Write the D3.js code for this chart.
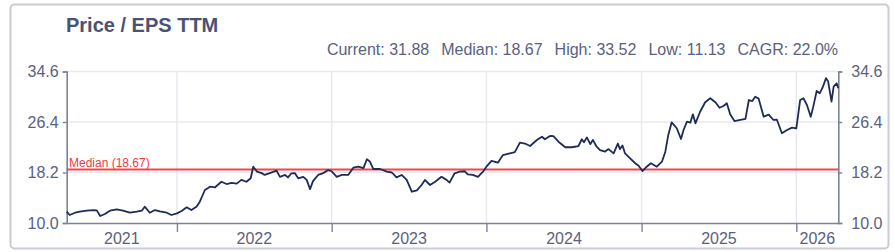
<!DOCTYPE html>
<html>
<head>
<meta charset="utf-8">
<script src="https://cdn.jsdelivr.net/npm/d3@7"></script>
<style>
body { margin: 0; background: #fff; }
svg { display: block; font-family: "Liberation Sans", Arial, sans-serif; }
</style>
</head>
<body>
<svg width="895" height="252"></svg>
<script>

// DATA

var title = "Price / EPS TTM";
var statLabels = ["Current", "Median", "High", "Low", "CAGR"];
var statValues = ["31.88", "18.67", "33.52", "11.13", "22.0%"];
var medianValue = 18.67;
var yTicks = [10.0, 18.2, 26.4, 34.6];
var domainDates = ["2021-04-16", "2026-04-10"];

var dates = [
    "2021-04-16", "2021-04-23", "2021-05-06", "2021-05-17", "2021-06-02", "2021-06-18", "2021-06-26",
    "2021-07-04", "2021-07-15", "2021-07-27", "2021-08-12", "2021-08-27", "2021-09-12", "2021-09-28",
    "2021-10-10", "2021-10-17", "2021-10-29", "2021-11-10", "2021-11-22", "2021-12-08", "2021-12-19",
    "2022-01-01", "2022-01-12", "2022-01-24", "2022-02-04", "2022-02-16", "2022-02-24", "2022-03-08",
    "2022-03-20", "2022-04-01", "2022-04-16", "2022-04-28", "2022-05-10", "2022-05-22", "2022-06-02",
    "2022-06-14", "2022-06-24", "2022-06-30", "2022-07-09", "2022-07-20", "2022-07-27", "2022-08-08",
    "2022-08-24", "2022-09-01", "2022-09-13", "2022-09-20", "2022-09-28", "2022-10-06", "2022-10-14",
    "2022-10-26", "2022-11-03", "2022-11-11", "2022-11-18", "2022-11-30", "2022-12-12", "2022-12-24",
    "2023-01-01", "2023-01-13", "2023-01-25", "2023-02-09", "2023-02-21", "2023-03-05", "2023-03-17",
    "2023-03-25", "2023-04-01", "2023-04-09", "2023-04-25", "2023-05-11", "2023-05-23", "2023-06-03",
    "2023-06-15", "2023-06-27", "2023-07-09", "2023-07-21", "2023-08-01", "2023-08-09", "2023-08-21",
    "2023-09-02", "2023-09-17", "2023-09-29", "2023-10-06", "2023-10-18", "2023-10-30", "2023-11-11",
    "2023-11-18", "2023-11-30", "2023-12-12", "2023-12-24", "2024-01-01", "2024-01-13", "2024-01-28",
    "2024-02-09", "2024-02-25", "2024-03-08", "2024-03-20", "2024-04-01", "2024-04-13", "2024-04-29",
    "2024-05-11", "2024-05-18", "2024-05-30", "2024-06-07", "2024-06-19", "2024-07-05", "2024-07-20",
    "2024-08-05", "2024-08-13", "2024-08-18", "2024-08-25", "2024-09-02", "2024-09-08", "2024-09-16",
    "2024-09-25", "2024-10-07", "2024-10-15", "2024-10-27", "2024-11-06", "2024-11-11", "2024-11-17",
    "2024-11-23", "2024-12-05", "2024-12-17", "2024-12-25", "2025-01-03", "2025-01-13", "2025-01-23",
    "2025-02-06", "2025-02-18", "2025-02-26", "2025-03-05", "2025-03-13", "2025-03-25", "2025-04-04",
    "2025-04-10", "2025-04-18", "2025-04-26", "2025-05-02", "2025-05-08", "2025-05-19", "2025-05-31",
    "2025-06-12", "2025-06-24", "2025-07-04", "2025-07-13", "2025-07-21", "2025-07-29", "2025-08-08",
    "2025-08-19", "2025-09-03", "2025-09-11", "2025-09-19", "2025-09-26", "2025-10-04", "2025-10-16",
    "2025-10-28", "2025-11-08", "2025-11-16", "2025-11-28", "2025-12-10", "2025-12-22", "2026-01-01",
    "2026-01-10", "2026-01-18", "2026-01-26", "2026-02-04", "2026-02-10", "2026-02-18", "2026-02-25",
    "2026-03-04", "2026-03-12", "2026-03-17", "2026-03-25", "2026-03-30", "2026-04-06", "2026-04-10"
];

var values = [
    11.83, 11.30, 11.67, 11.83, 12.00, 12.10, 12.05,
    11.14, 11.46, 12.00, 12.20, 12.00, 11.67, 11.83,
    12.00, 12.65, 11.67, 12.10, 11.90, 11.67, 11.30,
    11.57, 11.95, 12.55, 12.10, 12.65, 13.46, 15.36,
    15.90, 15.80, 16.70, 16.33, 16.50, 16.40, 17.00,
    16.70, 17.26, 19.14, 18.33, 18.10, 17.80, 18.10,
    18.50, 17.50, 17.80, 17.40, 18.07, 18.10, 17.26,
    17.50, 17.00, 15.50, 16.80, 17.80, 18.10, 18.60,
    18.40, 17.50, 17.80, 17.80, 18.98, 19.14, 18.90,
    20.35, 20.00, 18.77, 18.77, 18.33, 18.20, 17.40,
    17.80, 17.00, 15.08, 15.30, 16.17, 17.00, 16.17,
    16.70, 17.50, 17.00, 16.55, 18.07, 18.33, 18.40,
    17.90, 17.80, 17.50, 18.33, 19.14, 20.10, 19.80,
    21.04, 21.30, 21.50, 23.04, 22.90, 22.50, 23.47,
    24.00, 23.60, 24.13, 24.10, 23.20, 22.30, 22.30,
    22.50, 23.60, 23.10, 23.90, 22.80, 23.50, 22.50,
    21.85, 21.60, 22.00, 21.30, 22.90, 22.00, 22.60,
    21.30, 20.50, 19.70, 19.30, 18.44, 19.14, 19.70,
    19.14, 19.95, 21.58, 24.30, 26.35, 25.38, 23.64,
    25.10, 26.45, 26.30, 27.65, 26.19, 28.07, 29.60,
    30.25, 29.60, 28.72, 29.00, 29.44, 27.65, 26.56,
    26.70, 26.90, 29.97, 29.80, 30.50, 30.20, 27.26,
    27.60, 26.73, 26.80, 24.57, 25.10, 25.48, 25.38,
    29.97, 30.25, 29.16, 27.26, 28.90, 31.44, 31.06,
    32.00, 33.52, 33.00, 29.70, 32.13, 32.68, 31.88
];

var parse = d3.timeParse("%Y-%m-%d");
var data = dates.map(function (d, i) { return { date: parse(d), value: values[i] }; });

var svg = d3.select("svg"),
    width = +svg.attr("width"),
    height = +svg.attr("height");

var plotLeft = 66.7, plotRight = 838.3, plotTop = 71.5, plotBottom = 223;
var textColor = "#5a6180", axisColor = "#7c8299", gridColor = "#e8e9f0";

var x = d3.scaleTime()
    .domain(domainDates.map(parse))
    .range([plotLeft, plotRight]);

var y = d3.scaleLinear()
    .domain([yTicks[0], yTicks[yTicks.length - 1]])
    .range([plotBottom, plotTop]);

// frame
svg.append("rect")
    .attr("x", 10.5).attr("y", 4.5)
    .attr("width", 878).attr("height", 244)
    .attr("rx", 4)
    .attr("fill", "#fff")
    .attr("stroke", "#c9cbd6")
    .attr("stroke-width", 2);

// title and stats
svg.append("text")
    .attr("x", 66).attr("y", 32)
    .attr("fill", "#4b5274")
    .attr("font-size", 20)
    .attr("font-weight", "bold")
    .text(title);

var stats = svg.append("text")
    .attr("x", 838).attr("y", 55)
    .attr("text-anchor", "end")
    .attr("fill", textColor)
    .attr("font-size", 16);

statLabels.forEach(function (l, i) {
    stats.append("tspan")
        .attr("dx", i == 0 ? 0 : 12)
        .text(l + ": " + statValues[i]);
});

// grid
var years = x.ticks(d3.timeYear);

svg.append("g")
    .selectAll("line")
    .data(yTicks.slice(1))
    .enter().append("line")
    .attr("x1", plotLeft).attr("x2", plotRight)
    .attr("y1", function (d) { return y(d); })
    .attr("y2", function (d) { return y(d); })
    .attr("stroke", gridColor)
    .attr("stroke-width", 1.5);

svg.append("g")
    .selectAll("line")
    .data(years)
    .enter().append("line")
    .attr("x1", function (d) { return x(d); })
    .attr("x2", function (d) { return x(d); })
    .attr("y1", plotTop).attr("y2", plotBottom)
    .attr("stroke", gridColor)
    .attr("stroke-width", 1.5);

// axes
var yAxisL = d3.axisLeft(y)
    .tickValues(yTicks)
    .tickFormat(d3.format(".1f"))
    .tickSize(4)
    .tickPadding(4);

var yAxisR = d3.axisRight(y)
    .tickValues(yTicks)
    .tickFormat(d3.format(".1f"))
    .tickSize(4)
    .tickPadding(9);

var xAxis = d3.axisBottom(x)
    .tickValues(years)
    .tickFormat("")
    .tickSize(9)
    .tickSizeOuter(0);

function styleAxis(g) {
    g.select(".domain").attr("stroke", axisColor).attr("stroke-width", 1.6);
    g.selectAll(".tick line").attr("stroke", axisColor).attr("stroke-width", 1.4);
    g.selectAll(".tick text").attr("fill", textColor).attr("font-size", 16)
        .attr("font-family", "Liberation Sans, Arial, sans-serif");
}

svg.append("g")
    .attr("transform", "translate(0," + plotBottom + ")")
    .call(xAxis)
    .call(styleAxis);

svg.append("g")
    .attr("transform", "translate(" + plotLeft + ",0)")
    .call(yAxisL)
    .call(styleAxis);

svg.append("g")
    .attr("transform", "translate(" + plotRight + ",0)")
    .call(yAxisR)
    .call(styleAxis);

// year labels centred in the visible part of each year
var d0 = x.domain()[0], d1 = x.domain()[1];
var yearStarts = d3.timeYear.range(d3.timeYear.floor(d0), d1);

svg.append("g")
    .selectAll("text")
    .data(yearStarts)
    .enter().append("text")
    .attr("x", function (d) {
        var a = d < d0 ? d0 : d;
        var b = d3.timeYear.offset(d, 1);
        if (b > d1) b = d1;
        return (x(a) + x(b)) / 2;
    })
    .attr("y", 244)
    .attr("text-anchor", "middle")
    .attr("fill", textColor)
    .attr("font-size", 16)
    .text(function (d) { return d.getFullYear(); });

// median line
svg.append("line")
    .attr("x1", plotLeft).attr("x2", plotRight)
    .attr("y1", y(medianValue)).attr("y2", y(medianValue))
    .attr("stroke", "#f0474a")
    .attr("stroke-width", 2);

svg.append("text")
    .attr("x", 69).attr("y", y(medianValue) - 3)
    .attr("fill", "#ef3b3f")
    .attr("font-size", 12)
    .text("Median (" + medianValue.toFixed(2) + ")");

// line
var line = d3.line()
    .x(function (d) { return x(d.date); })
    .y(function (d) { return y(d.value); });

svg.append("path")
    .datum(data)
    .attr("fill", "none")
    .attr("stroke", "#1e2b57")
    .attr("stroke-width", 1.8)
    .attr("stroke-linejoin", "round")
    .attr("d", line);

</script>
</body>
</html>
